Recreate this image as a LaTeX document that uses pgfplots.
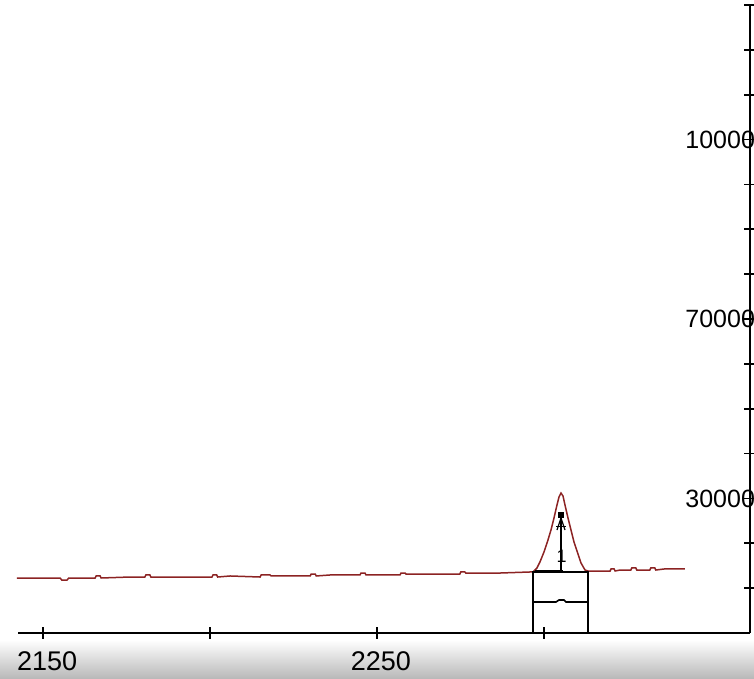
\documentclass[border=0pt]{standalone}
\usepackage{fontspec}
\setmainfont{Liberation Sans}
\usepackage{pgfplots}
\pgfplotsset{compat=1.18}
\definecolor{trace}{RGB}{140,35,35}

\begin{document}
\begin{tikzpicture}
  \path[use as bounding box] (0,0) rectangle (377pt,339.5pt);
  \clip (0,0) rectangle (377pt,339.5pt);
  % grey band under the axis
  \shade[top color=white, bottom color=black!28] (0,0) rectangle (377pt,19.5pt);
  \begin{axis}[
      at={(9pt,23pt)}, anchor=south west,
      scale only axis, width=366pt, height=314pt,
      xmin=2142.5, xmax=2361.7, ymin=0, ymax=140000,
      axis x line*=bottom, axis y line*=right,
      axis line style={black, line width=0.8pt},
      xtick={2150,2200,2250,2300},
      xticklabels={2150,,2250,},
      ytick={10000,20000,...,140000},
      yticklabels={,,30000,,,,70000,,,,10000,,,},
      scaled y ticks=false,
      tick align=center, major tick length=6pt,
      tick style={black, line width=0.8pt},
      xticklabel style={font=\fontsize{13.5}{16}\selectfont,
          anchor=north, inner sep=0pt, yshift=-6pt, xshift=2pt},
      yticklabel style={font=\fontsize{12.5}{15}\selectfont,
          anchor=west, inner sep=0pt, xshift=-35.5pt},
      clip=false,
  ]
  % chromatogram trace
  \addplot[color=trace, line width=0.75pt, sharp plot] coordinates {
      (2142.2,12260) (2155.1,12260) (2155.6,11810) (2157.2,11810) (2157.7,12260)
      (2165.6,12260) (2165.9,12710) (2167.1,12710) (2167.4,12260)
      (2176.0,12480) (2180.5,12480) (2180.8,12930) (2182.0,12930) (2182.3,12480)
      (2197.0,12480) (2200.6,12480) (2200.9,12930) (2202.0,12930) (2202.3,12480)
      (2206.0,12710) (2215.0,12480) (2215.3,12930) (2218.0,12930) (2218.3,12710)
      (2226.9,12710) (2230.0,12710) (2230.3,13150) (2231.5,13150) (2231.8,12710)
      (2235.9,12930) (2244.9,12930) (2245.2,13370) (2246.4,13370) (2246.7,12930)
      (2250.9,12930) (2256.9,12930) (2257.2,13370) (2258.4,13370) (2258.7,13150)
      (2265.9,13150) (2274.8,13150) (2275.1,13600) (2276.3,13600) (2276.6,13370)
      (2286.8,13370) (2295.8,13600)
      (2296.7,13600) (2297.9,14490) (2298.8,15830) (2300.0,18050) (2301.2,20730)
      (2302.1,22960) (2303.0,25630) (2303.9,28530) (2304.5,30310) (2305.1,31210)
      (2305.7,30540) (2306.3,28530) (2307.2,25630) (2308.1,22960) (2309.0,20280)
      (2310.2,17610) (2311.1,15600) (2312.3,14040) (2313.2,13820)
      (2319.8,13820) (2320.1,14270) (2321.0,14270) (2321.3,13820)
      (2322.8,14040) (2326.0,14040) (2326.3,14490) (2327.5,14490) (2327.8,14040)
      (2328.7,14040) (2331.7,14040) (2332.0,14490) (2333.2,14490) (2333.5,14040)
      (2336.0,14270) (2342.2,14270)
  };
  % integration box below the peak
  \addplot[black, line width=0.8pt] coordinates {
      (2296.7,0) (2296.7,13600) (2313.2,13600) (2313.2,0)
  };
  \addplot[black, line width=0.8pt] coordinates {
      (2296.7,6910) (2303.6,6910) (2304.5,7360) (2306.0,7360) (2306.6,6910) (2313.2,6910)
  };
  % thick baseline segment
  \addplot[black, line width=1.6pt] coordinates {
      (2297.3,13700) (2305.7,13700)
  };
  % peak marker
  \addplot[black, line width=0.8pt] coordinates {
      (2305.1,13600) (2305.1,26300)
  };
  \addplot[black, line width=0.6pt] coordinates {
      (2303.9,22960) (2305.1,25630) (2306.3,22960)
  };
  \addplot[black, line width=0.6pt] coordinates {
      (2303.7,23700) (2306.5,23700)
  };
  \addplot[black, only marks, mark=square*, mark size=1.1pt] coordinates {
      (2305.1,26300)
  };
  \node[font=\fontsize{9}{10}\selectfont, inner sep=0pt] at (axis cs:2305.3,17160) {1};
  \end{axis}
\end{tikzpicture}
\end{document}
